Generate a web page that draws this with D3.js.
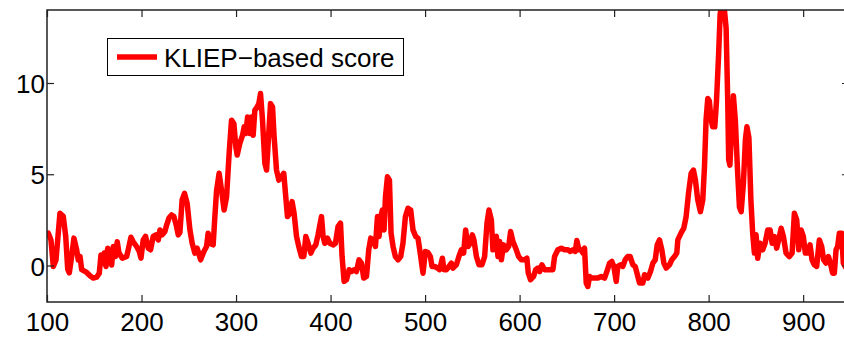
<!DOCTYPE html>
<html>
<head>
<meta charset="utf-8">
<script src="https://cdn.jsdelivr.net/npm/d3@7"></script>
<style>
  html, body { margin: 0; padding: 0; background: #fff; }
  svg { display: block; font-family: "Liberation Sans", Arial, Helvetica, sans-serif; }
</style>
</head>
<body>
<svg id="chart" width="844" height="338"></svg>
<script>
// ---- data ----
const xValues = [
  101.4,104.2,106.7,109.5,113.7,117.2,119.8,121.9,123.6,126.1,128.5,131.4,133.1,134.9,136.7,142,145.5,148.9,152.5,155.3,
  157.1,158.9,160.6,162.4,164.2,166.6,168.4,170.1,172.6,174.3,176.1,179.6,184.3,185.9,188.8,191.2,194.8,197.6,199.4,201.8,
  204.3,207.1,209.6,212.4,215.2,217.7,219.5,221.9,224.7,226.5,229,231.8,234.3,237.1,238.8,240.6,243,245.5,248.3,251.2,
  253.6,256.4,258.9,262.5,266,268.8,270.5,272.3,275.8,277.6,279.4,282.1,284.7,287.4,290,292.7,295.2,297.7,299.8,301.2,
  304,306.9,308.6,310.4,312.2,314.6,316.4,318.1,319.9,322.3,324.1,325.9,328,330.5,332.3,334.4,336.5,338.6,340.3,342.8,
  345.3,348.1,350.5,352.6,354.4,356.9,359.3,361.4,364,366.4,369.2,371.7,373.8,376.2,379.1,381.5,384.4,386.8,390.4,392.1,
  393.9,396.7,399.2,402.7,405.2,407.9,410.5,412.2,414.3,416.8,419.6,422.1,424.9,427.4,430.1,432.7,435.1,438,440.4,442.5,
  444.9,447.5,449.6,451.3,453.1,454.9,456.6,458.1,460.2,462.3,464,466.1,468.6,471.4,474.2,476.6,479.2,481.9,484.8,487.2,
  490.1,492.5,495.4,497.8,500.3,503.1,505.6,507.3,510.2,513,515.4,518.3,520,522.5,525.3,527.8,529.5,533.1,535.8,538.4,
  540.8,542.9,545.4,547.9,550,551.7,554.3,557,560.2,563,565.5,567.6,570.1,571.8,573.6,575.4,577.1,578.9,580.7,583.1,
  586,588.4,590.5,593,596.5,599,601.8,605.3,607.7,609.2,611.6,614.8,616.9,619.4,621.2,623.6,626.4,629.9,635.2,637,
  640.5,644.1,647.6,651.1,653.6,656.4,658.9,660.6,662.7,665.3,667,668.7,670.5,672.2,674,675.8,679.3,682.8,686.4,689.9,
  692.3,695.2,697.6,699.7,702.2,703.9,706.8,709.2,711.7,714.5,717,719.8,722.3,725.1,726.9,730.4,732.2,735.7,738.5,741,
  743.5,745.6,748,750.5,752.6,755.1,758.6,761,763.9,766.3,767.4,769.9,771.6,773.7,776.2,778.7,781.5,783.9,786,788.5,
  791.3,793.8,795.6,797.3,799.1,800.8,802.5,804.3,806.5,808.3,810.5,812.2,814.3,816.7,818.5,820.2,821.2,822.5,824,826.2,
  828.3,830.4,832.6,834.4,836.8,838.9,840.5,842.6,844.7,846.6,848.4,850.2,851.9,854.4,857.2,859.7,862.5,865,867.2,869.6,
  872,874.1,876.7,879.1,881.9,885.4,888.3,890.7,893.2,895.3,897.8,900.2,902.3,904.8,907.3,909.4,911.8,914.3,917.1,919.6,
  921.7,924.2,926.7,928.8,931.2,933,934.8,936.5,938.3,940.7,942.5,945
];
const scoreValues = [
  1.77,1.4,-0.05,0.3,2.86,2.7,1.6,-0.2,-0.4,0.5,1.5,0.86,0.3,0.5,-0.23,-0.38,-0.56,-0.69,-0.64,-0.42,
  0.58,0.13,0.68,-0.05,0.95,0.5,0.03,1.04,0.5,1.3,0.7,0.4,0.5,0.86,1.55,1.3,1.04,0.77,0.4,1.4,
  1.6,0.95,0.86,1.6,1.68,1.4,1.95,1.68,1.86,2.2,2.6,2.77,2.68,2.13,1.68,1.8,3.6,3.95,3.4,1.95,
  1.22,0.68,0.95,0.31,0.77,1.04,1.77,1.22,1.13,2.68,4.1,5.05,4.1,3.04,3.77,6.14,7.96,7.78,6.5,6.05,
  6.69,7.14,7.6,7.23,8.14,7.23,8.14,7.14,8.5,8.69,8.87,9.42,7.96,5.6,5.23,7.05,8.87,8.69,7.05,5.23,
  4.68,4.86,5.05,3.77,2.68,2.86,3.5,2.86,1.59,1.04,0.49,0.49,1.59,1.22,0.68,0.95,1.13,1.7,2.68,1.59,
  1.22,1.5,1.22,1.13,1.22,2.13,2.32,0.49,-0.87,-0.78,-0.23,-0.33,-0.23,-0.33,0.31,0.13,-0.69,-0.6,0.86,1.5,
  1.4,1.04,2.68,1.59,2.68,3.04,1.95,3.77,4.86,4.68,1.77,1.04,0.49,0.31,0.49,1.22,2.68,3.14,3.04,1.95,
  1.59,1.5,0.49,-0.42,0.77,0.71,0.49,-0.05,-0.05,-0.14,-0.23,0.4,-0.23,-0.23,-0.05,0.13,-0.14,0.04,0.49,0.86,
  0.68,1.95,1.04,1.22,1.68,1.4,0.49,0.04,0.04,0.49,2.32,3.04,2.5,0.86,1.5,1.59,0.49,1.31,0.31,1.13,
  0.86,1.04,1.86,1.31,0.86,0.49,0.31,0.31,0.4,-0.42,-0.78,-0.6,-0.23,-0.14,-0.33,0.04,-0.23,-0.23,-0.23,0.49,
  0.86,0.95,0.86,0.86,0.77,0.86,0.77,1.37,0.86,0.86,0.68,0.95,-0.96,-1.15,-0.6,-0.69,-0.69,-0.69,-0.6,-0.69,
  -0.33,0.13,0.22,-0.05,-0.87,-0.05,0.04,-0.05,0.31,0.49,0.49,0.04,-0.05,-0.6,-0.96,-0.96,-0.51,-0.69,-0.33,0.13,
  0.31,1.13,1.4,0.86,0.13,-0.14,0.04,0.31,0.49,0.68,1.4,1.68,1.86,2.04,2.68,3.95,5.05,5.23,4.68,3.59,
  2.95,3.59,5.41,8.0,9.15,9.0,8.0,7.6,7.6,9.0,11.5,13.8,14.3,14.0,13.0,9.0,5.8,5.5,7.2,9.3,
  7.9,5.4,3.2,2.95,4.5,6.9,7.6,7.0,3.6,1.77,0.68,1.68,0.4,1.22,0.86,1.22,1.95,1.95,1.22,1.59,
  0.95,1.4,2.04,1.59,0.68,0.49,0.68,2.86,2.5,0.86,1.95,1.59,0.68,0.68,1.13,0.31,0.04,-0.05,1.4,1.04,
  0.31,0.13,0.49,0.13,-0.42,-0.42,0.86,1.04,1.77,1.77,0.13,-0.1
];
const xTicks = [100, 200, 300, 400, 500, 600, 700, 800, 900];
const yTicks = [0, 5, 10];
const xDomain = [100, 948.5];
const yDomain = [-2, 14];
const legendLabel = "KLIEP\u2212based score";

// ---- layout ----
const M = { left: 47, right: 849, top: 10, bottom: 302 };
const tickLen = 7;
const axisColor = "#222";
const fontSize = 26;

const svg = d3.select("#chart");
const x = d3.scaleLinear().domain(xDomain).range([M.left, M.right]);
const y = d3.scaleLinear().domain(yDomain).range([M.bottom, M.top]);

svg.append("defs").append("clipPath").attr("id", "clip")
  .append("rect").attr("x", M.left).attr("y", M.top)
  .attr("width", M.right - M.left).attr("height", M.bottom - M.top);

const data = xValues.map((v, i) => [v, scoreValues[i]]);
const line = d3.line().x(d => x(d[0])).y(d => y(d[1]));

svg.append("path")
  .datum(data)
  .attr("clip-path", "url(#clip)")
  .attr("fill", "none")
  .attr("stroke", "#ff0000")
  .attr("stroke-width", 5.5)
  .attr("stroke-linejoin", "round")
  .attr("stroke-linecap", "round")
  .attr("d", line);

function styleAxis(g) {
  g.select(".domain").remove();
  g.selectAll(".tick line").attr("stroke", axisColor).attr("stroke-width", 1.2);
  g.selectAll(".tick text").attr("fill", "#000").style("font-size", fontSize + "px")
    .style("font-family", "'Liberation Sans', Arial, Helvetica, sans-serif");
}

const xAxisB = svg.append("g").attr("transform", `translate(0,${M.bottom})`)
  .call(d3.axisBottom(x).tickValues(xTicks).tickFormat(d3.format("d"))
    .tickSizeInner(-tickLen).tickSizeOuter(0));
styleAxis(xAxisB);
xAxisB.selectAll(".tick text").attr("dy", null).attr("y", 29);

const xAxisT = svg.append("g").attr("transform", `translate(0,${M.top})`)
  .call(d3.axisTop(x).tickValues(xTicks).tickFormat("").tickSizeInner(-tickLen).tickSizeOuter(0));
styleAxis(xAxisT);

const yAxisL = svg.append("g").attr("transform", `translate(${M.left},0)`)
  .call(d3.axisLeft(y).tickValues(yTicks).tickFormat(d3.format("d"))
    .tickSizeInner(-tickLen).tickSizeOuter(0));
styleAxis(yAxisL);
yAxisL.selectAll(".tick text").attr("x", -2).attr("dy", null).attr("y", 9.5).attr("text-anchor", "end");

const yAxisR = svg.append("g").attr("transform", `translate(${M.right},0)`)
  .call(d3.axisRight(y).tickValues(yTicks).tickFormat("").tickSizeInner(-tickLen).tickSizeOuter(0));
styleAxis(yAxisR);

svg.append("rect")
  .attr("x", M.left).attr("y", M.top)
  .attr("width", M.right - M.left).attr("height", M.bottom - M.top)
  .attr("fill", "none").attr("stroke", axisColor).attr("stroke-width", 1.5);

// legend
const lg = svg.append("g");
lg.append("rect").attr("x", 107.5).attr("y", 38.5).attr("width", 296).attr("height", 37)
  .attr("fill", "#fff").attr("stroke", "#000").attr("stroke-width", 1);
lg.append("line").attr("x1", 117).attr("x2", 157).attr("y1", 57).attr("y2", 57)
  .attr("stroke", "#ff0000").attr("stroke-width", 5.5);
lg.append("text").attr("x", 164).attr("y", 66.5)
  .style("font-size", fontSize + "px").attr("fill", "#000")
  .text(legendLabel);
</script>
</body>
</html>
